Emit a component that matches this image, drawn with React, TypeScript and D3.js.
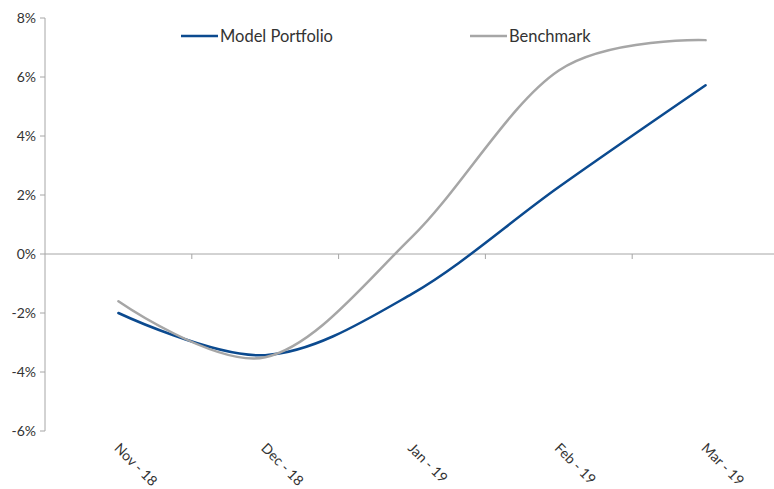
import { scaleLinear, scaleBand, line, curveCatmullRom } from "d3";

const months = ["Nov - 18", "Dec - 18", "Jan - 19", "Feb - 19", "Mar - 19"];
const modelPortfolio = [-2.0, -3.43, -1.35, 2.27, 5.72];
const benchmark = [-1.6, -3.5, 0.58, 6.22, 7.25];
const yTicks = [-6, -4, -2, 0, 2, 4, 6, 8];

const width = 774;
const height = 489;
const left = 45;
const right = 779;
const top = 18;
const bottom = 431;
const font = "Lato, 'Liberation Sans', sans-serif";

export default function App() {
  const x = scaleBand().domain(months).range([left, right]);
  const y = scaleLinear().domain([-6, 8]).range([bottom, top]);
  const cx = (m: string) => (x(m) ?? 0) + x.bandwidth() / 2;

  const path = line<number>()
    .x((_, i) => cx(months[i]))
    .y((d) => y(d))
    .curve(curveCatmullRom.alpha(0));

  const series = [
    { name: "Model Portfolio", values: modelPortfolio, color: "#0B4A8F", lx: 181 },
    { name: "Benchmark", values: benchmark, color: "#A6A6A6", lx: 470 },
  ];

  return (
    <svg
      width={width}
      height={height}
      style={{ position: "absolute", left: 0, top: 0, background: "#fff" }}
      fontFamily={font}
    >
      {/* y axis */}
      <line x1={left} x2={left} y1={top} y2={bottom} stroke="#A6A6A6" />
      {yTicks.map((t) => (
        <g key={t}>
          <line x1={left - 5} x2={left} y1={y(t)} y2={y(t)} stroke="#A6A6A6" />
          <text x={left - 9} y={y(t)} dy="0.35em" textAnchor="end" fontSize={14} fill="#333">
            {t}%
          </text>
        </g>
      ))}

      {/* x axis on zero */}
      <line x1={left} x2={right} y1={y(0)} y2={y(0)} stroke="#A6A6A6" />
      {months.slice(1).map((m) => (
        <line key={m} x1={x(m)} x2={x(m)} y1={y(0)} y2={y(0) + 5} stroke="#A6A6A6" />
      ))}
      {months.map((m) => (
        <text
          key={m}
          transform={`translate(${cx(m) - 5},${449}) rotate(45)`}
          fontSize={14}
          fill="#333"
        >
          {m}
        </text>
      ))}

      {series.map((s) => (
        <path
          key={s.name}
          d={path(s.values) ?? ""}
          fill="none"
          stroke={s.color}
          strokeWidth={2.5}
          strokeLinecap="round"
        />
      ))}

      {/* legend */}
      {series.map((s) => (
        <g key={s.name}>
          <line x1={s.lx} x2={s.lx + 37} y1={36} y2={36} stroke={s.color} strokeWidth={2.5} />
          <text x={s.lx + 39} y={36} dy="0.35em" fontSize={16.5} fill="#333">
            {s.name}
          </text>
        </g>
      ))}
    </svg>
  );
}
